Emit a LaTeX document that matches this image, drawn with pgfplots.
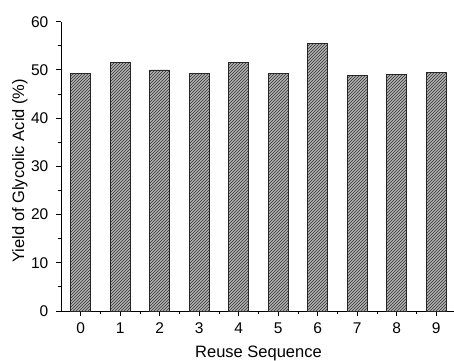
\documentclass[border=0pt]{standalone}
\usepackage{pgfplots}
\pgfplotsset{compat=1.18}
\usepackage{fontspec}
\setmainfont{Liberation Sans}
\usetikzlibrary{patterns}
\begin{document}
\fontsize{16.5}{19}\selectfont
\begin{tikzpicture}
\begin{axis}[
  at={(0,0)}, anchor=south west,
  scale only axis,
  width=395pt, height=289.3pt,
  xmin=-0.5, xmax=9.5,
  ymin=0, ymax=60,
  axis lines=left,
  axis line style={-, line width=0.9pt},
  xtick={0,...,9},
  minor xtick={0.5,1.5,...,8.5},
  ytick={0,10,...,60},
  minor ytick={5,15,...,55},
  tick align=outside,
  major tick length=5pt,
  minor tick length=3pt,
  tick style={line width=0.9pt, black},
  /pgf/number format/assume math mode=true,
  ticklabel style={font=\fontsize{15.5}{18}\selectfont},
  yticklabel style={xshift=-2pt},
  xticklabel style={yshift=-1pt},
  xlabel={Reuse Sequence},
  ylabel={Yield of Glycolic Acid (\%)},
  label style={font=\fontsize{16.5}{19}\selectfont},
  xlabel style={at={(axis description cs:0.5,0)}, anchor=center, yshift=-42pt},
  ylabel style={at={(axis description cs:-0.104,0.485)}, anchor=center},
  clip=false,
]
\addplot[ybar, bar width=20pt, draw=black!85, line width=0.8pt,
  fill=gray!60,
  postaction={pattern=north east lines, pattern color=black!80}]
  coordinates {(0,49.3) (1,51.5) (2,50.0) (3,49.2) (4,51.6) (5,49.3) (6,55.5) (7,48.9) (8,49.1) (9,49.4)};
\end{axis}
\pgfresetboundingbox
\useasboundingbox (-61pt,-49pt) rectangle (393pt,311pt);
\end{tikzpicture}
\end{document}
